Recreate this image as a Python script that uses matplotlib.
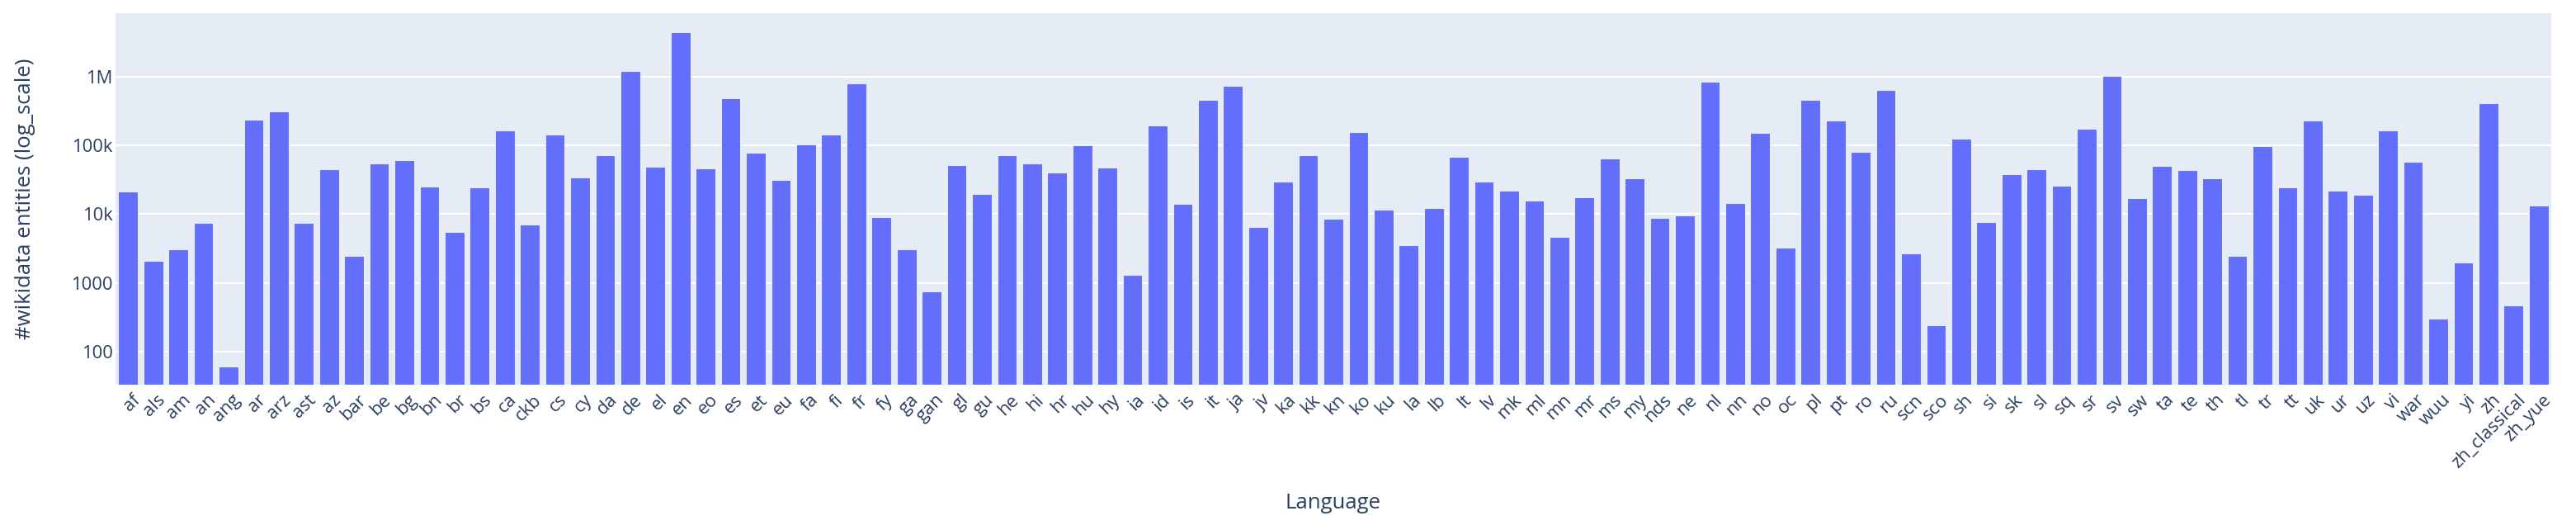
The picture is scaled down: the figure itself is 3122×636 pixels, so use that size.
import matplotlib.pyplot as plt
import matplotlib.transforms as mtransforms

languages = ['af', 'als', 'am', 'an', 'ang', 'ar', 'arz', 'ast', 'az', 'bar', 'be', 'bg', 'bn', 'br',
             'bs', 'ca', 'ckb', 'cs', 'cy', 'da', 'de', 'el', 'en', 'eo', 'es', 'et', 'eu', 'fa', 'fi', 'fr',
             'fy', 'ga', 'gan', 'gl', 'gu', 'he', 'hi', 'hr', 'hu', 'hy', 'ia', 'id', 'is', 'it', 'ja', 'jv', 'ka',
             'kk', 'kn', 'ko', 'ku', 'la', 'lb', 'lt', 'lv', 'mk', 'ml', 'mn', 'mr', 'ms', 'my', 'nds', 'ne',
             'nl', 'nn', 'no', 'oc', 'pl', 'pt', 'ro', 'ru', 'scn', 'sco', 'sh', 'si', 'sk', 'sl', 'sq', 'sr', 'sv',
             'sw', 'ta', 'te', 'th', 'tl', 'tr', 'tt', 'uk', 'ur', 'uz', 'vi', 'war', 'wuu', 'yi', 'zh',
             'zh_classical', 'zh_yue']

entities = [21500, 2080, 3080, 7460, 60, 235000, 311000, 7550, 45000, 2450, 54600, 61700, 25100, 5510,
            24800, 167000, 6980, 146000, 34000, 72900, 1220000, 49300, 4460000, 46000, 482000, 78200, 31500,
            103000, 146000, 798000,
            9140, 3110, 738, 51500, 19600, 72100, 54000, 39800, 100000, 47600, 1290, 196000, 14200, 466000,
            738000, 6530, 29700,
            72000, 8550, 158000, 11600, 3560, 12200, 67500, 29400, 21700, 15800, 4710, 17700, 64600, 32900,
            8740, 9460,
            845000, 14500, 151000, 3250, 460000, 230000, 79800, 646000, 2650, 243, 125000, 7640, 38500, 44600,
            25700, 173000, 1030000,
            16900, 50900, 44000, 32900, 2450, 98900, 24300, 232000, 21700, 19000, 166000, 57000, 297, 1990,
            417000, 466, 13400]

yticks = [100, 1000, 10000, 100000, 1000000]
ytick_labels = ['100', '1000', '10k', '100k', '1M']

text_color = '#2a3f5f'
plt.rcParams['font.family'] = ['Open Sans', 'DejaVu Sans']

W, H = 3122, 636
fig = plt.figure(figsize=(W / 100, H / 100), dpi=100)
left, right, top, bottom = 140, 3092, 16, 465.7
ax = fig.add_axes([left / W, 1 - bottom / H, (right - left) / W, (bottom - top) / H])
ax.set_facecolor('#E5ECF6')

x = range(len(languages))
ax.bar(x, entities, width=0.78, color='#636efa', edgecolor='#E5ECF6', linewidth=0.8, zorder=3)

ax.set_yscale('log')
ax.set_ylim(10 ** 1.519, 10 ** 6.926)
ax.set_xlim(-0.5, len(languages) - 0.5)
ax.set_yticks(yticks)
ax.set_yticklabels(ytick_labels)
ax.yaxis.set_minor_locator(plt.NullLocator())
ax.grid(axis='y', color='white', linewidth=1.5, zorder=1)
ax.set_axisbelow(True)

ax.set_xticks(list(x))
ax.set_xticklabels(languages, rotation=45, ha='right', rotation_mode='anchor')
ax.tick_params(axis='both', length=0, labelsize=15.8, colors=text_color)
ax.tick_params(axis='x', pad=6)
ax.tick_params(axis='y', pad=2.4)
offset = mtransforms.ScaledTranslation(4 / 100, 0, fig.dpi_scale_trans)
for lbl in ax.get_xticklabels():
    lbl.set_transform(lbl.get_transform() + offset)
for s in ax.spines.values():
    s.set_visible(False)

ax.set_xlabel('Language', fontsize=18.5, color=text_color)
ax.xaxis.set_label_coords(0.5, -(597 - bottom) / (bottom - top))
ax.set_ylabel('#wikidata entities (log_scale)', fontsize=18.5, color=text_color)
ax.yaxis.set_label_coords(-(left - 43) / (right - left), 0.5)

fig.savefig('out.png', dpi=100, facecolor='white')
